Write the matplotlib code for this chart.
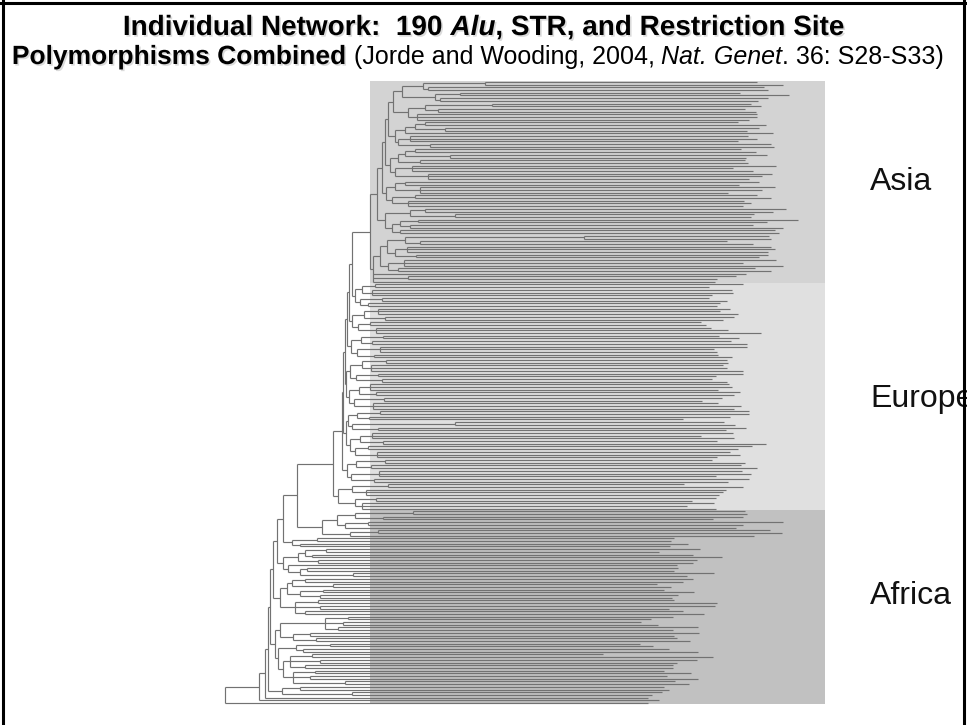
import numpy as np
import matplotlib
matplotlib.use("Agg")
import matplotlib.pyplot as plt
import matplotlib.patheffects as pe
from matplotlib.collections import LineCollection
from matplotlib.lines import Line2D


# leaf tip positions (distance from the root), top to bottom
asia_tips = [532, 558, 539, 543, 515, 564, 543, 533, 526, 536, 520, 531, 532, 532, 524,
             513, 541, 534, 522, 548, 523, 532, 513, 546, 549, 516, 531, 542, 521, 520,
             523, 551, 508, 528, 547,
             537, 524, 534, 514, 550, 537, 503, 532, 546, 519, 526, 518, 561, 548, 529,
             526, 573, 542, 528, 558, 550, 554, 544, 546, 502, 528, 546, 550, 543, 543,
             534, 551, 518, 558, 530, 546, 521, 511, 492, 490]
europe_tips = [518, 484, 507, 508, 487, 484, 502, 495, 492, 505, 495, 513, 509, 498, 476,
               481, 486, 503, 536, 494, 514, 506, 522, 522, 489, 492, 493, 507, 502, 503,
               498, 502, 518, 518, 491, 487, 502,
               504, 507, 493, 515, 509, 497, 477, 493, 516, 509, 524, 524, 505, 458, 499,
               510, 521, 501, 508, 476, 509, 492, 541, 527, 513, 505, 515, 492, 487, 520,
               516, 532, 517, 526, 491, 524,
               503, 459, 518, 501, 498, 494, 491, 467, 489, 462, 491]
africa_tips = [520, 522, 518, 488, 558, 518, 511, 545, 557, 529, 449, 446, 463, 445, 475,
               434, 468, 497, 472, 468, 452, 453, 449, 489, 462, 468, 458, 432,
               446, 439, 469, 453, 447, 449, 492, 490, 444, 458, 479, 448, 426, 416, 433,
               473, 448, 474, 449, 452, 465, 415, 428, 444, 473, 378, 488, 472, 452, 448,
               448, 439, 466, 442, 473, 450, 464, 439,
               444, 437, 427, 423, 434, 423]

# terminal groups: number of leaves and the node they split from (None = single leaf)
asia_group_sizes = [2, 2, 2, 2, 2, 2, 3, 2, 2, 1, 3, 2, 2, 2, 2, 3, 3, 2, 3, 2, 3, 2, 2, 2,
                    2, 2, 2, 2, 3, 2, 3, 2, 1, 2, 1]
asia_group_nodes = [260, 203, 235, 215, 267, 213, 192, 200, 220, None, 185, 205, 190, 225,
                    195, 187, 203, 180, 195, 190, 183, 200, 230, 193, 185, 175, 359, 195,
                    182, 191, 179, 173, None, 183, None]
europe_group_sizes = [2, 3, 2, 2, 3, 2, 2, 3, 2, 2, 3, 2, 2, 3, 2, 2, 3, 2, 2, 3, 2, 2, 2, 2,
                      3, 2, 2, 3, 2, 2, 3, 2, 2, 3, 2, 3]
europe_group_nodes = [150, 147, 157, 143, 153, 160, 145, 151, 158, 147, 155, 149, 161, 146,
                      153, 157, 145, 151, 159, 148, 155, 144, 230, 153, 147, 158, 143, 152,
                      160, 146, 154, 149, 163, 141, 151, 137]
africa_group_sizes = [2, 2, 2, 1, 2, 1, 2, 2, 2, 2, 2, 1, 2, 2, 2, 2, 2, 2, 2, 2, 2, 2, 2, 2,
                      2, 2, 2, 2, 2, 2, 2, 2, 2, 2, 2, 2, 1, 1, 1]
africa_group_nodes = [188, 158, 143, None, 153, None, 92, 75, 101, 87, 93, None, 82, 128, 80,
                      108, 98, 95, 93, 95, 80, 123, 118, 113, 85, 91, 105, 78, 87, 95, 80, 90,
                      85, 120, 75, 127, None, None, None]

# inner clades: (first group, last group, node distance); groups are numbered
# through Asia, Europe and Africa in order
clades = [
    (0, 1, 198), (2, 3, 210), (0, 3, 177), (4, 5, 200), (4, 6, 183), (0, 6, 168),
    (7, 8, 190), (7, 9, 180), (10, 11, 173), (7, 11, 170), (0, 11, 163),
    (12, 13, 180), (12, 14, 173), (15, 16, 170), (12, 16, 165), (0, 16, 160),
    (17, 18, 170), (19, 20, 167), (17, 20, 161), (0, 20, 157),
    (21, 22, 185), (23, 24, 175), (23, 25, 167), (21, 25, 160), (0, 25, 152),
    (26, 27, 180), (28, 29, 170), (26, 29, 162), (30, 31, 163), (26, 31, 155),
    (26, 34, 148), (0, 34, 145),
    (35, 36, 137), (37, 38, 135), (35, 38, 130), (0, 38, 127),
    (39, 40, 139), (41, 42, 133), (39, 42, 127), (0, 42, 124),
    (43, 44, 136), (45, 46, 132), (43, 46, 126), (0, 46, 122),
    (47, 48, 137), (49, 50, 131), (47, 50, 125), (51, 52, 134), (53, 54, 129),
    (51, 54, 124), (47, 54, 121), (0, 54, 120),
    (55, 56, 132), (57, 58, 127), (55, 58, 123), (59, 60, 135), (61, 62, 130),
    (59, 62, 125), (55, 62, 121), (0, 62, 118),
    (63, 64, 131), (65, 66, 126), (63, 66, 122), (0, 66, 117),
    (67, 68, 127), (69, 70, 130), (67, 70, 113), (0, 70, 108),
    (71, 72, 130), (73, 74, 120), (71, 74, 112), (75, 76, 125), (71, 76, 97), (0, 76, 72),
    (77, 78, 67), (0, 78, 58),
    (79, 80, 80), (79, 81, 73), (83, 84, 75), (82, 84, 63), (79, 84, 58), (0, 84, 52),
    (85, 86, 67), (87, 88, 75), (85, 88, 62), (89, 91, 70), (85, 91, 55), (0, 91, 48),
    (92, 94, 100), (95, 96, 68), (92, 96, 55), (97, 98, 71), (99, 101, 65),
    (102, 104, 68), (99, 104, 58), (97, 104, 53), (92, 104, 50), (0, 104, 45),
    (105, 106, 57), (0, 106, 43), (0, 107, 40), (0, 108, 34), (0, 109, 0),
]

regions = ["Asia", "Europe", "Africa"]
region_colors = ["#d3d3d3", "#e0e0e0", "#c1c1c1"]
shade_from, shade_to = 145, 600
label_rows = [37, 117.5, 190.5]

tips = asia_tips + europe_tips + africa_tips
sizes = asia_group_sizes + europe_group_sizes + africa_group_sizes
group_nodes = asia_group_nodes + europe_group_nodes + africa_group_nodes
n_leaves = len(tips)

first_leaf = np.cumsum([0] + sizes[:-1])
last_leaf = first_leaf + np.array(sizes) - 1
node_at = {}
for s, e, x in zip(first_leaf, last_leaf, group_nodes):
    if x is not None:
        node_at[(int(s), int(e))] = x
for g0, g1, x in clades:
    node_at[(int(first_leaf[g0]), int(last_leaf[g1]))] = x

segs = []


def build(lo, hi):
    x = node_at[(lo, hi)]
    ys = []
    i = lo
    while i <= hi:
        sub = max((b for (a, b) in node_at if a == i and b <= hi and (a, b) != (lo, hi)),
                  default=None)
        if sub is None:
            segs.append([(x, i), (tips[i], i)])
            ys.append(i)
            i += 1
        else:
            cy = build(i, sub)
            segs.append([(x, cy), (node_at[(i, sub)], cy)])
            ys.append(cy)
            i = sub + 1
    segs.append([(x, ys[0]), (x, ys[-1])])
    return (ys[0] + ys[-1]) / 2


build(0, n_leaves - 1)

W, H = 967, 725
fig = plt.figure(figsize=(W / 100, H / 100), dpi=100, facecolor="white")

# tree panel: 1 px per distance unit, leaf rows 2.7 px apart starting at y=82
top_px, step_px = 82, (703 - 82) / (n_leaves - 1)
ax = fig.add_axes([215 / W, 0, 752 / W, 650 / H])
ax.set_xlim(-10, 742)
ax.set_ylim((725 - top_px) / step_px, (75 - top_px) / step_px)
ax.set_facecolor("#fbfbfb")
ax.axis("off")
ax.patch.set_visible(True)

bounds = np.cumsum([0, len(asia_tips), len(europe_tips), len(africa_tips)]) - 0.5
for k, name in enumerate(regions):
    ax.fill_between([shade_from, shade_to], bounds[k], bounds[k + 1],
                    color=region_colors[k], lw=0, zorder=0)
    ax.text(645, label_rows[k], name, fontsize=23, family="Liberation Sans",
            va="center", ha="left", color="#111111")

ax.add_collection(LineCollection(segs, colors="#727272", linewidths=0.85, zorder=2))

# title, built from runs of differently styled text
renderer = fig.canvas.get_renderer()
shadow = [pe.withSimplePatchShadow(offset=(1.2, -1.2), shadow_rgbFace="#999999", alpha=0.35)]


def run_width(s, **kw):
    t = fig.text(0, 0, "x" + s + "x", **kw)
    t0 = fig.text(0, 0, "xx", **kw)
    w = t.get_window_extent(renderer).width - t0.get_window_extent(renderer).width
    t.remove()
    t0.remove()
    return w


def draw_runs(runs, center_px, base_px):
    widths = [run_width(s, **kw) for s, kw in runs]
    x = center_px - sum(widths) / 2
    for (s, kw), w in zip(runs, widths):
        fig.text(x / W, 1 - base_px / H, s, va="baseline", ha="left", **kw)
        x += w


bold = dict(fontsize=20.1, fontweight="bold", family="Liberation Sans", path_effects=shadow)
bold_it = dict(bold, fontstyle="italic")
bold_l2 = dict(bold, fontsize=19)
small = dict(fontsize=18, family="Liberation Sans")
small_it = dict(small, fontstyle="italic")

draw_runs([("Individual Network:  190 ", bold), ("Alu", bold_it),
           (", STR, and Restriction Site", bold)], 484, 35)
draw_runs([("Polymorphisms Combined ", bold_l2), ("(Jorde and Wooding, 2004, ", small),
           ("Nat. Genet", small_it), (". 36: S28-S33)", small)], 478, 64)

# slide frame
for xs, ys in [([3, 3], [0, H]), ([0, W], [3, 3]), ([964, 964], [0, H])]:
    fig.add_artist(Line2D([x / W for x in xs], [1 - y / H for y in ys],
                          color="black", lw=2.2))

fig.savefig("out.png", dpi=100, facecolor=fig.get_facecolor())
